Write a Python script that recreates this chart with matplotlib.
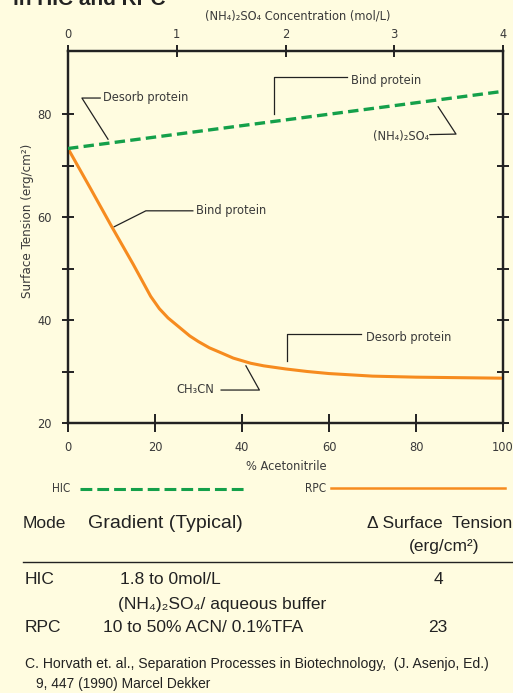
import matplotlib.pyplot as plt
from matplotlib.lines import Line2D

plt.rcParams['font.family'] = ['DejaVu Sans']
plt.rcParams['font.stretch'] = 'condensed'
plt.rcParams['lines.scale_dashes'] = False

bg = '#FFFCE0'
ink = '#222222'
txt = '#3a3a3a'
green = '#14A04A'
orange = '#F68B1F'
wide = ['Liberation Sans', 'DejaVu Sans']
fs = 9.2

# HIC: surface tension vs (NH4)2SO4 concentration (top axis)
hic_conc = [0, 4]
hic_tension = [73.3, 84.4]

# RPC: surface tension vs % acetonitrile (bottom axis)
rpc_acn = [0, 5, 10, 15, 19, 21, 23, 25, 28, 30, 32.5, 35, 38, 40, 42, 45,
           50, 55, 60, 70, 80, 90, 100]
rpc_tension = [73.3, 65.8, 58.2, 50.8, 44.6, 42.2, 40.4, 39.0, 36.9, 35.8,
               34.6, 33.7, 32.6, 32.1, 31.6, 31.1, 30.5, 30.0, 29.6, 29.1,
               28.9, 28.8, 28.7]

acn_ticks = [0, 20, 40, 60, 80, 100]
conc_ticks = [0, 1, 2, 3, 4]
y_major = [20, 40, 60, 80]
y_minor = [30, 50, 70]

# table rows
modes = ['HIC', 'RPC']
gradients = ['1.8 to 0mol/L', '10 to 50% ACN/ 0.1%TFA']
deltas = ['4', '23']

fig = plt.figure(figsize=(5.13, 6.93), dpi=100, facecolor=bg)
ax = fig.add_axes([68 / 513, 1 - 423 / 693, 435 / 513, 372 / 693])
ax.set_facecolor(bg)
ax.set_xlim(0, 100)
ax.set_ylim(20, 20 + 372 / 5.15)

ax2 = ax.twiny()
ax2.set_xlim(0, 4)

ax.plot(rpc_acn, rpc_tension, color=orange, lw=2.2, solid_capstyle='round', zorder=3)
ax2.plot(hic_conc, hic_tension, color=green, lw=2.4, dashes=(7.5, 3.8), zorder=3)

for s in ax.spines.values():
    s.set_color(ink)
    s.set_linewidth(1.6)
for s in ax2.spines.values():
    s.set_color(ink)
    s.set_linewidth(1.6)

ax.set_xticks(acn_ticks)
ax.set_yticks(y_major)
ax.set_yticks(y_minor, minor=True)
ax.tick_params(axis='x', direction='inout', length=13, width=1.4, color=ink,
               labelcolor=txt, labelsize=fs, pad=6.5)
ax.tick_params(axis='y', which='both', direction='inout', length=9, width=1.4,
               color=ink, labelcolor=txt, labelsize=fs, pad=7,
               right=True)
ax2.set_xticks(conc_ticks)
ax2.tick_params(axis='x', direction='inout', length=8, width=1.4, color=ink,
                labelcolor=txt, labelsize=fs, pad=3.5)

ax.text(0.503, -0.116, '% Acetonitrile', transform=ax.transAxes,
        ha='center', va='center', fontsize=fs, color=txt)
ax.text(-0.094, 0.543, 'Surface Tension (erg/cm\u00b2)', transform=ax.transAxes,
        rotation=90, ha='center', va='center', fontsize=9.6, color=txt)
ax.text(0.528, 1.094, '(NH\u2084)\u2082SO\u2084 Concentration (mol/L)',
        transform=ax.transAxes, ha='center', va='center', fontsize=fs, color=txt)

# leader-line annotations (data coordinates of the lower axis)
notes = [
    ('Desorb protein', (8.05, 83.2), 'left', [(7.4, 83.1), (3.2, 83.1), (9.2, 75.1)]),
    ('Bind protein', (65.0, 86.6), 'left', [(64.1, 87.1), (47.4, 87.1), (47.4, 80.0)]),
    ('(NH\u2084)\u2082SO\u2084', (83.0, 75.7), 'right', [(83.2, 76.0), (89.2, 76.1), (85.1, 81.4)]),
    ('Bind protein', (29.4, 61.2), 'left', [(28.7, 61.2), (17.9, 61.2), (10.6, 58.1)]),
    ('Desorb protein', (68.5, 36.6), 'left', [(67.4, 37.3), (50.4, 37.3), (50.4, 32.0)]),
    ('CH\u2083CN', (33.6, 26.5), 'right', [(35.2, 26.4), (44.0, 26.4), (40.9, 31.1)]),
]
for label, (tx, ty), ha, pts in notes:
    ax.text(tx, ty, label, ha=ha, va='center', fontsize=fs, color=txt)
    ax.plot([p[0] for p in pts], [p[1] for p in pts], color=ink, lw=0.9,
            zorder=2, clip_on=False)

# partially visible heading at the top edge
fig.text(13 / 513, 1 - 5 / 693, 'in HIC and RPC', ha='left', va='baseline',
         fontsize=15, fontweight='bold', color=ink, family=wide, stretch='normal')

# legend row
fig.text(52 / 513, 1 - 489 / 693, 'HIC', ha='left', va='center', fontsize=8.5, color=txt)
fig.add_artist(Line2D([80 / 513, 247 / 513], [1 - 489 / 693, 1 - 489 / 693],
                      color=green, lw=2.2, dashes=(8.5, 3.6)))
fig.text(305 / 513, 1 - 488 / 693, 'RPC', ha='left', va='center', fontsize=8.5, color=txt)
fig.add_artist(Line2D([331 / 513, 505 / 513], [1 - 488 / 693, 1 - 488 / 693],
                      color=orange, lw=1.8))

# table
def ft(x, y, s, **kw):
    kw.setdefault('fontsize', 12.5)
    kw.setdefault('color', ink)
    kw.setdefault('va', 'center')
    fig.text(x / 513, 1 - y / 693, s, family=wide, stretch='normal', **kw)

ft(23, 523, 'Mode')
ft(88, 523, 'Gradient (Typical)', fontsize=14)
ft(512, 523, '\u0394 Surface  Tension', ha='right')
ft(444, 546, '(erg/cm\u00b2)', ha='center')
fig.add_artist(Line2D([23 / 513, 513 / 513], [1 - 562 / 693, 1 - 562 / 693],
                      color=ink, lw=1.0))
row_y = [580, 628]
grad_x = [120, 103]
for m, g, d, y, gx in zip(modes, gradients, deltas, row_y, grad_x):
    ft(25, y, m)
    ft(gx, y, g)
    ft(438, y, d, ha='center')
ft(118, 605, '(NH\u2084)\u2082SO\u2084/ aqueous buffer')

ft(25, 664, 'C. Horvath et. al., Separation Processes in Biotechnology,  (J. Asenjo, Ed.)',
   fontsize=10.1)
ft(36, 684, '9, 447 (1990) Marcel Dekker', fontsize=9.9)

fig.savefig('out.png', dpi=100, facecolor=bg)
